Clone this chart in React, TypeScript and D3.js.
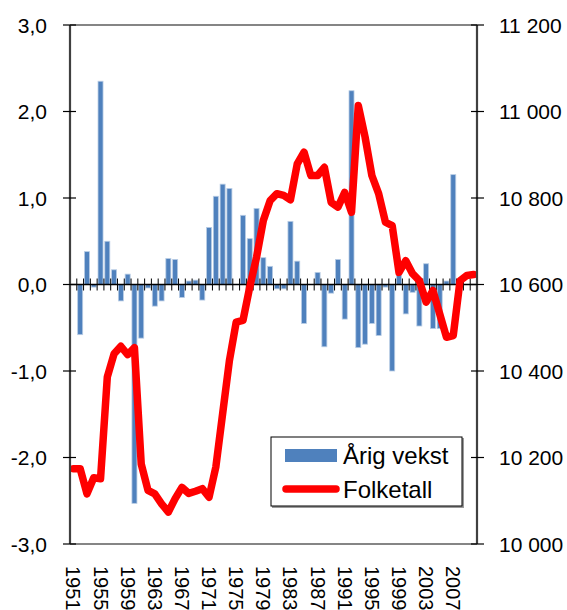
import React from "react";
import * as d3 from "d3";

const years = d3.range(1951, 2011);

// annual growth (%) - left axis
const growth: (number | null)[] = [
  null, -0.58, 0.38, -0.03, 2.35, 0.5, 0.17, -0.19, 0.12, -2.53,
  -0.62, -0.04, -0.25, -0.19, 0.3, 0.29, -0.15, 0.04, 0.05, -0.18,
  0.66, 1.02, 1.16, 1.11, 0, 0.8, 0.53, 0.88, 0.31, 0.21,
  -0.05, -0.05, 0.73, 0.27, -0.45, 0, 0.14, -0.72, -0.1, 0.29,
  -0.4, 2.24, -0.73, -0.69, -0.45, -0.59, -0.03, -1.0, 0.12, -0.34,
  -0.09, -0.48, 0.24, -0.51, -0.51, 0.04, 1.27, 0.05, 0, 0,
];

// population - right axis
const population = [
  10174, 10174, 10116, 10153, 10151, 10386, 10440, 10457, 10438, 10454,
  10185, 10124, 10116, 10093, 10074, 10105, 10131, 10117, 10122, 10128,
  10108, 10178, 10301, 10424, 10513, 10517, 10594, 10663, 10748, 10794,
  10810, 10806, 10796, 10879, 10906, 10852, 10852, 10871, 10790, 10779,
  10813, 10767, 11014, 10941, 10852, 10810, 10744, 10736, 10628, 10655,
  10625, 10609, 10559, 10586, 10532, 10478, 10482, 10609, 10621, 10623,
];

const leftTicks = [-3, -2, -1, 0, 1, 2, 3];
const rightTicks = [10000, 10200, 10400, 10600, 10800, 11000, 11200];
const labelYears = years.filter((y, i) => i % 4 === 0);

const W = 567;
const H = 610;
const M = { left: 70, right: 477, top: 25, bottom: 544 };
const FONT = "'Liberation Sans', Arial, sans-serif";

const fmtLeft = (v: number) => v.toFixed(1).replace(".", ",");
const fmtRight = (v: number) => {
  const s = String(v);
  return s.slice(0, s.length - 3) + " " + s.slice(-3);
};

export default function App() {
  const x = d3
    .scaleBand<number>()
    .domain(years)
    .range([M.left, M.right])
    .paddingInner(0.26)
    .paddingOuter(0.13);
  const step = (M.right - M.left) / years.length;
  const yL = d3.scaleLinear().domain([-3, 3]).range([M.bottom, M.top]);
  const yR = d3.scaleLinear().domain([10000, 11200]).range([M.bottom, M.top]);

  const cx = (yr: number) => (x(yr) as number) + x.bandwidth() / 2;

  const line = d3
    .line<number>()
    .x((d, i) => cx(years[i]))
    .y((d) => yR(d));

  const zero = yL(0);

  return (
    <svg
      width={W}
      height={H}
      style={{ position: "absolute", left: 0, top: 0, background: "#fff" }}
      fontFamily={FONT}
    >
      {/* bars */}
      {growth.map((v, i) =>
        v === null || v === 0 ? null : (
          <rect
            key={years[i]}
            x={x(years[i])}
            y={Math.min(yL(v), zero)}
            width={x.bandwidth()}
            height={Math.abs(yL(v) - zero)}
            fill="#4F81BD"
            stroke="#B9CDE5"
            strokeWidth={0.8}
          />
        )
      )}

      {/* top / bottom frame */}
      <line x1={M.left} x2={M.right} y1={M.top} y2={M.top} stroke="#858585" strokeWidth={2} />
      <line x1={M.left} x2={M.right} y1={M.bottom} y2={M.bottom} stroke="#858585" strokeWidth={2} />

      {/* zero axis with category ticks */}
      <line x1={M.left} x2={M.right} y1={zero} y2={zero} stroke="#000" strokeWidth={1.5} />
      {d3.range(years.length + 1).map((i) => (
        <line
          key={"xt" + i}
          x1={M.left + i * step}
          x2={M.left + i * step}
          y1={zero - 6}
          y2={zero + 6}
          stroke="#000"
          strokeWidth={1}
        />
      ))}

      {/* population line */}
      <path
        d={line(population) || ""}
        fill="none"
        stroke="#FF0000"
        strokeWidth={7.5}
        strokeLinejoin="round"
        strokeLinecap="round"
      />

      {/* left axis */}
      <line x1={M.left} x2={M.left} y1={M.top} y2={M.bottom} stroke="#404040" strokeWidth={2.2} />
      {leftTicks.map((t) => (
        <g key={"l" + t}>
          <line x1={M.left - 7} x2={M.left + 6} y1={yL(t)} y2={yL(t)} stroke="#000" strokeWidth={1.2} />
          <text
            x={47}
            y={yL(t)}
            textAnchor="end"
            dominantBaseline="central"
            fontSize={21}
            fill="#000"
          >
            {fmtLeft(t)}
          </text>
        </g>
      ))}

      {/* right axis */}
      <line x1={M.right} x2={M.right} y1={M.top} y2={M.bottom} stroke="#404040" strokeWidth={2.2} />
      {rightTicks.map((t) => (
        <g key={"r" + t}>
          <line x1={M.right - 6} x2={M.right + 7} y1={yR(t)} y2={yR(t)} stroke="#000" strokeWidth={1.2} />
          <text
            x={499}
            y={yR(t)}
            textAnchor="start"
            dominantBaseline="central"
            fontSize={21}
            fill="#000"
          >
            {fmtRight(t)}
          </text>
        </g>
      ))}

      {/* x labels */}
      {labelYears.map((yr) => (
        <text
          key={"x" + yr}
          transform={`translate(${cx(yr)},566) rotate(90)`}
          textAnchor="start"
          dominantBaseline="central"
          fontSize={20}
          fill="#000"
        >
          {yr}
        </text>
      ))}

      {/* legend */}
      <g>
        <rect x={272} y={438} width={192} height={70} fill="#9a9a9a" />
        <rect x={271} y={437} width={191} height={69} fill="#fff" stroke="#000" strokeWidth={1} />
        <rect x={285} y={449} width={52} height={13} fill="#4F81BD" />
        <text x={343} y={464} fontSize={24} fill="#000">
          Årig vekst
        </text>
        <line
          x1={286}
          x2={336}
          y1={489}
          y2={489}
          stroke="#FF0000"
          strokeWidth={7.5}
          strokeLinecap="round"
        />
        <text x={343} y={498} fontSize={24} fill="#000">
          Folketall
        </text>
      </g>
    </svg>
  );
}
